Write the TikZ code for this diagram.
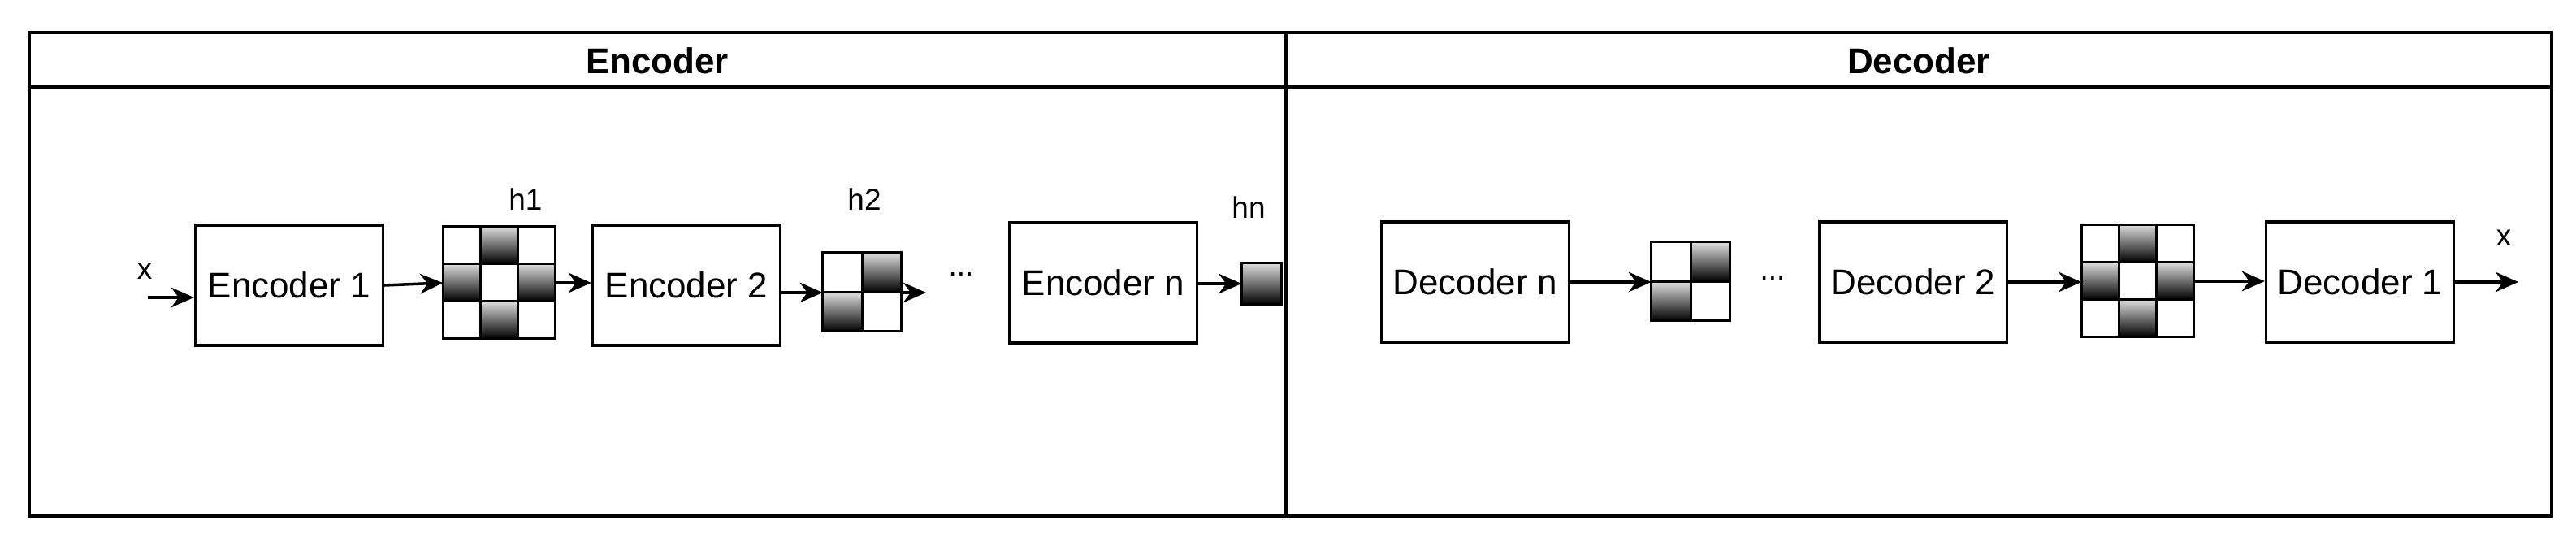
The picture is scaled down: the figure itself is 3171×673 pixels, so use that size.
\documentclass[tikz,border=0pt]{standalone}
\usepackage{fontspec}
\setmainfont{Liberation Sans}
\usetikzlibrary{arrows.meta}
\tikzset{
  blk/.style={draw,line width=0.9pt,minimum width=2.31cm,minimum height=1.48cm,inner sep=0pt,font=\fontsize{12.5}{14}\selectfont},
  grid/.style={inner sep=0pt,draw=none},
  cellw/.style={draw,line width=0.8pt,fill=white},
  cellg/.style={draw,line width=0.8pt,top color=gray!25,bottom color=black},
  con/.style={line width=1pt,-{Stealth[length=8pt,width=7pt]}},
  lbl/.style={font=\fontsize{10.5}{12}\selectfont,inner sep=0pt},
  ttl/.style={font=\bfseries\fontsize{12.5}{14}\selectfont}
}
\newcommand{\gridthree}[2]{%
  \foreach \r in {0,1,2}{\foreach \c in {0,1,2}{%
    \pgfmathtruncatemacro{\g}{(mod(\r+\c,2)==1)?1:0}%
    \ifnum\g=1 \path[cellg] ([xshift=\c*#2 cm,yshift=-\r*#2 cm]#1.north west) rectangle ++(#2cm,-#2cm);
    \else \path[cellw] ([xshift=\c*#2 cm,yshift=-\r*#2 cm]#1.north west) rectangle ++(#2cm,-#2cm);\fi}}}
\newcommand{\gridtwo}[2]{%
  \foreach \r in {0,1}{\foreach \c in {0,1}{%
    \pgfmathtruncatemacro{\g}{(mod(\r+\c,2)==1)?1:0}%
    \ifnum\g=1 \path[cellg] ([xshift=\c*#2 cm,yshift=-\r*#2 cm]#1.north west) rectangle ++(#2cm,-#2cm);
    \else \path[cellw] ([xshift=\c*#2 cm,yshift=-\r*#2 cm]#1.north west) rectangle ++(#2cm,-#2cm);\fi}}}
\begin{document}
\begin{tikzpicture}[x=0.01cm,y=-0.01cm]
\useasboundingbox (0,0) rectangle (3171,673);
\draw[line width=1.2pt] (36,40) rectangle (3141,635);
\draw[line width=1.2pt] (36,107) -- (3141,107);
\draw[line width=1.2pt] (1583,40) -- (1583,635);
\node[ttl] (tenc) at (809,75) {Encoder};
\node[ttl] (tdec) at (2362,75) {Decoder};
% encoder side
\node[blk] (e1) at (356,351) {Encoder 1};
\node[grid,minimum width=1.38cm,minimum height=1.38cm] (h1) at (615,348) {};
\gridthree{h1}{0.46}
\node[blk] (e2) at (845,351) {Encoder 2};
\node[grid,minimum width=0.97cm,minimum height=0.97cm] (h2) at (1062,360) {};
\gridtwo{h2}{0.485}
\node[lbl] (dots1) at (1183,338) {...};
\coordinate (h2end) at (1140,360);
\node[blk] (en) at (1358,348) {Encoder n};
\node[grid,minimum width=0.48cm,minimum height=0.5cm] (hn) at (1553,349) {};
\path[cellg] (hn.north west) rectangle (hn.south east);
\node[lbl] (lh1) at (647,245) {h1};
\node[lbl] (lh2) at (1064,245) {h2};
\node[lbl] (lhn) at (1537,255) {hn};
\node[lbl] (lx) at (178,334) {x};
\coordinate (xin) at (182,366);
\draw[con] (xin) -- (xin -| e1.west);
\draw[con] (e1.east) -- (h1.west);
\draw[con] (h1.east) -- (e2.west |- h1.east);
\draw[con] (e2.east |- h2.west) -- (h2.west);
\draw[con] (h2.east) -- (h2end);
\draw[con] (en.east |- hn.west) -- (hn.west);
% decoder side
\node[blk] (dn) at (1816,347) {Decoder n};
\node[grid,minimum width=0.97cm,minimum height=0.97cm] (d2g) at (2082,347) {};
\gridtwo{d2g}{0.485}
\node[lbl] (dots2) at (2182,343) {...};
\node[blk] (d2) at (2355,347) {Decoder 2};
\node[grid,minimum width=1.38cm,minimum height=1.38cm] (d3g) at (2632,346) {};
\gridthree{d3g}{0.46}
\node[blk] (d1) at (2905,347) {Decoder 1};
\node[lbl] (lx2) at (3082,293) {x};
\coordinate (xout) at (3100,347);
\draw[con] (dn.east) -- (d2g.west);
\draw[con] (d2.east) -- (d3g.west |- d2.east);
\draw[con] (d3g.east) -- (d1.west |- d3g.east);
\draw[con] (d1.east) -- (xout);
\end{tikzpicture}
\end{document}
